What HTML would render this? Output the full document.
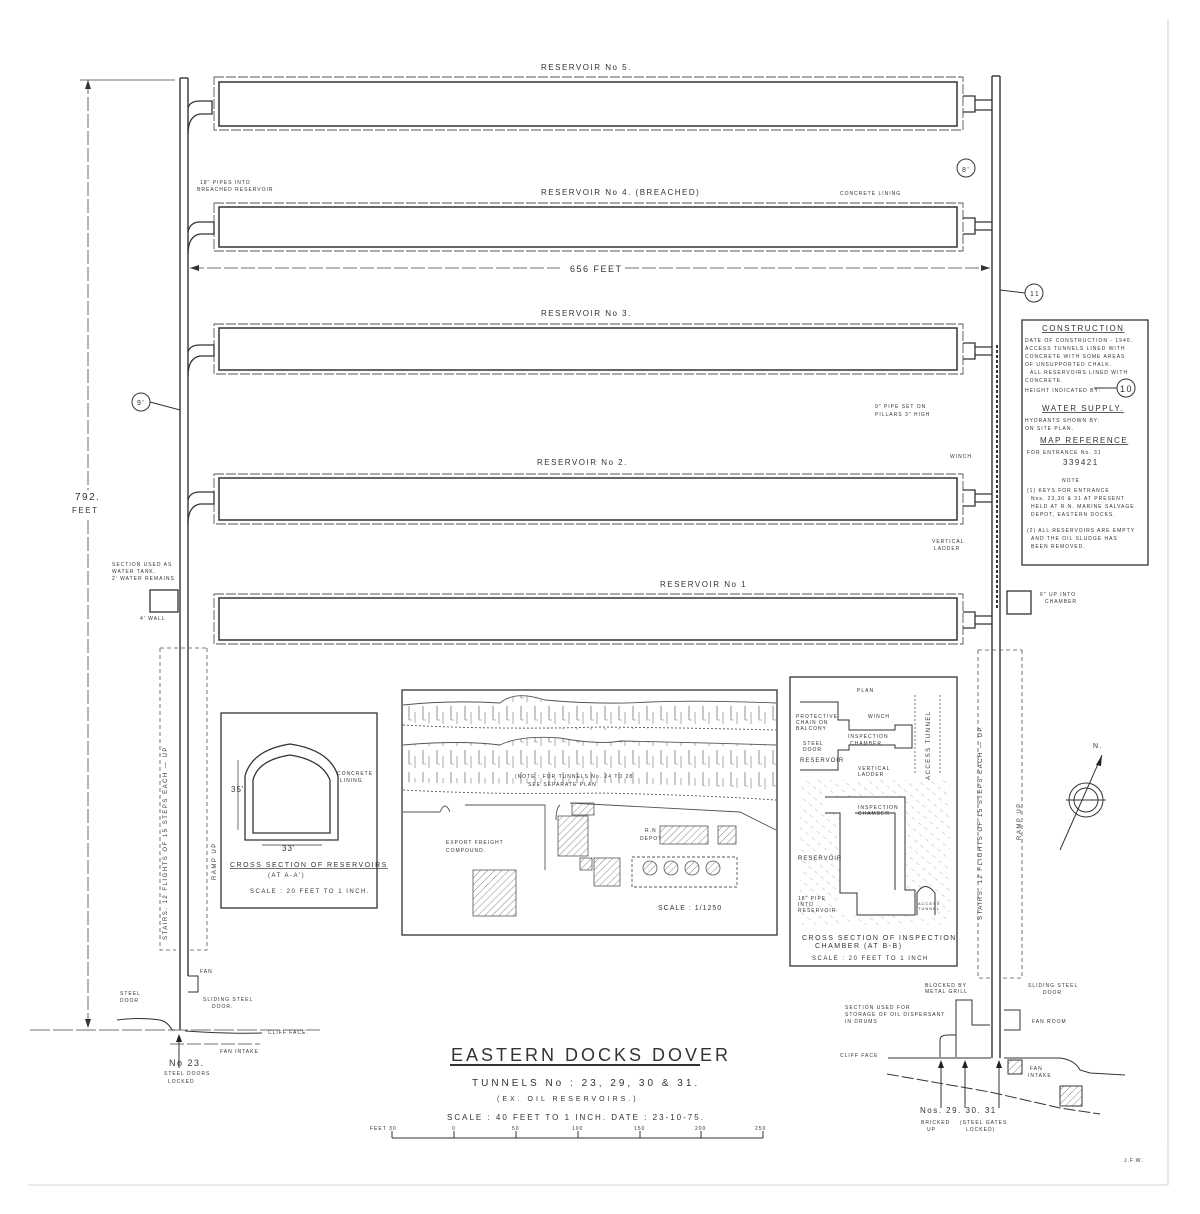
<!DOCTYPE html>
<html><head><meta charset="utf-8"><style>
html,body{margin:0;padding:0;background:#fff;}
svg{display:block;}
text{font-family:"Liberation Sans",sans-serif;fill:#333;}
</style></head><body>
<svg width="1200" height="1214" viewBox="0 0 1200 1214" xmlns="http://www.w3.org/2000/svg">
<defs>
<pattern id="cliff" width="14" height="22" patternUnits="userSpaceOnUse">
<line x1="3" y1="2" x2="3" y2="16" stroke="#777" stroke-width="0.8"/>
<line x1="9" y1="8" x2="9" y2="20" stroke="#888" stroke-width="0.7"/>
<line x1="3" y1="16" x2="6" y2="16" stroke="#888" stroke-width="0.6"/>
</pattern>
<pattern id="hatch" width="5" height="5" patternUnits="userSpaceOnUse" patternTransform="rotate(45)">
<line x1="0" y1="0" x2="0" y2="5" stroke="#666" stroke-width="0.8"/>
</pattern>
<pattern id="hatch2" width="8" height="8" patternUnits="userSpaceOnUse" patternTransform="rotate(-50)">
<line x1="0" y1="0" x2="0" y2="4" stroke="#999" stroke-width="0.7"/>
</pattern>
</defs>
<rect width="1200" height="1214" fill="#fff"/>
<g stroke="#555" fill="none" stroke-width="0.6" opacity="0.5">
<line x1="1168" y1="20" x2="1168" y2="1185"/>
<line x1="28" y1="1185" x2="1168" y2="1185"/>
</g>
<g stroke="#333" fill="none" stroke-width="1.4">
<line x1="180" y1="78" x2="180" y2="1030"/>
<line x1="188" y1="78" x2="188" y2="976"/>
<line x1="180" y1="78" x2="188" y2="78"/>
<line x1="992" y1="76" x2="992" y2="1058"/>
<line x1="1000" y1="76" x2="1000" y2="1058"/>
<line x1="992" y1="76" x2="1000" y2="76"/>
</g>
<g stroke="#333" fill="none" stroke-width="1.5">
<rect x="219" y="82" width="738" height="44"/>
<rect x="219" y="207" width="738" height="40"/>
<rect x="219" y="328" width="738" height="42"/>
<rect x="219" y="478" width="738" height="42"/>
<rect x="219" y="598" width="738" height="42"/>
</g>
<g stroke="#555" fill="none" stroke-width="0.9" stroke-dasharray="10,2">
<rect x="214" y="77" width="749" height="53"/>
<rect x="214" y="203" width="749" height="48"/>
<rect x="214" y="324" width="749" height="50"/>
<rect x="214" y="474" width="749" height="50"/>
<rect x="214" y="594" width="749" height="50"/>
</g>
<g stroke="#333" fill="none" stroke-width="1.3">
<path d="M188 108 Q190 101 200 101 L212 101 L212 114 L200 114 Q188 116 188 134"/>
<path d="M188 232 Q190 222 200 222 L214 222 L214 234 L200 234 Q188 236 188 254"/>
<path d="M188 352 Q190 345 200 345 L214 345 L214 356 L200 356 Q188 358 188 376"/>
<path d="M188 500 Q190 492 200 492 L214 492 L214 504 L200 504 Q188 506 188 524"/>
<path d="M963 96 L975 96 L975 112 L963 112"/><path d="M975 100 L992 100 M975 110 L992 110"/>
<path d="M963 218 L975 218 L975 234 L963 234"/><path d="M975 222 L992 222 M975 230 L992 230"/>
<path d="M963 343 L975 343 L975 359 L963 359"/><path d="M975 347 L992 347 M975 355 L992 355"/>
<path d="M963 490 L975 490 L975 506 L963 506"/><path d="M975 494 L992 494 M975 502 L992 502"/>
<path d="M963 612 L975 612 L975 628 L963 628"/><path d="M975 616 L992 616 M975 624 L992 624"/>
<rect x="1007" y="591" width="24" height="23"/>
<rect x="150" y="590" width="28" height="22"/>
</g>
<line x1="997" y1="345" x2="997" y2="610" stroke="#333" stroke-width="2" stroke-dasharray="3,2"/>
<g stroke="#444" fill="none" stroke-width="0.8">
<line x1="190" y1="268" x2="560" y2="268" stroke-dasharray="14,3"/>
<line x1="625" y1="268" x2="990" y2="268" stroke-dasharray="14,3"/>
<line x1="88" y1="80" x2="88" y2="490" stroke-dasharray="14,3"/>
<line x1="88" y1="520" x2="88" y2="1028" stroke-dasharray="14,3"/>
<line x1="80" y1="80" x2="175" y2="80"/>
<line x1="30" y1="1030" x2="320" y2="1030" stroke-dasharray="20,3"/>
<line x1="170" y1="1044" x2="260" y2="1044" stroke-dasharray="14,3"/>
</g>
<polygon points="190,268 199,265 199,271" fill="#333"/>
<polygon points="990,268 981,265 981,271" fill="#333"/>
<polygon points="88,80 85,89 91,89" fill="#333"/>
<polygon points="88,1028 85,1019 91,1019" fill="#333"/>
<g stroke="#555" fill="none" stroke-width="0.8" stroke-dasharray="4,3">
<path d="M160 648 L160 950 L176 950"/>
<path d="M207 648 L207 950 L190 950"/>
<line x1="160" y1="648" x2="207" y2="648"/>
<path d="M978 650 L978 978 L990 978"/>
<path d="M1022 650 L1022 978 L1002 978"/>
<line x1="978" y1="650" x2="1022" y2="650"/>
</g>
<g stroke="#333" fill="none" stroke-width="1">
<path d="M117 1020 Q140 1017 160 1020 Q168 1022 172 1030 L175 1030"/>
<path d="M185 1031 Q230 1034 262 1033"/>
<path d="M888 1058 L991 1058 M1004 1058 L1060 1058 Q1075 1060 1080 1070 L1090 1073 L1125 1075"/>
<path d="M887 1074 L990 1092 L1060 1108 L1100 1114" stroke-dasharray="12,3"/>
<path d="M956 1057 L956 1000 L972 1000 L972 1025 L990 1025"/>
<path d="M940 1057 L940 1040 Q940 1035 948 1035 L956 1035"/>
<path d="M1004 1010 L1020 1010 L1020 1030 L1004 1030"/>
<path d="M188 976 L198 976 L198 992 L188 992"/>
</g>
<g stroke="#333" stroke-width="1">
<line x1="941" y1="1108" x2="941" y2="1065"/><line x1="965" y1="1108" x2="965" y2="1065"/><line x1="999" y1="1108" x2="999" y2="1065"/>
<line x1="179" y1="1068" x2="179" y2="1038"/>
</g>
<polygon points="941,1060 938,1068 944,1068" fill="#222"/>
<polygon points="965,1060 962,1068 968,1068" fill="#222"/>
<polygon points="999,1060 996,1068 1002,1068" fill="#222"/>
<polygon points="179,1034 176,1042 182,1042" fill="#222"/>
<rect x="1060" y="1086" width="22" height="20" fill="url(#hatch)" stroke="#333"/>
<rect x="1008" y="1060" width="14" height="14" fill="url(#hatch)" stroke="#333"/>
<!-- site plan textures -->
<path d="M403 705 Q450 700 500 703 Q515 690 545 700 Q600 705 650 702 Q700 700 776 703 L776 728 Q700 726 600 730 Q500 728 403 722 Z" fill="url(#cliff)" stroke="none"/>
<path d="M403 745 Q460 740 500 745 Q520 735 560 738 Q600 745 620 741 Q680 742 776 745 L776 790 Q700 785 600 783 Q500 785 403 782 Z" fill="url(#cliff)" stroke="none"/>
<!-- inspection chamber hatch surround -->
<path d="M800 780 L950 780 L950 925 L800 925 Z M825 797 L905 797 L905 890 L935 890 L935 915 L840 915 L840 813 L825 813 Z" fill="url(#hatch2)" fill-rule="evenodd" stroke="none"/>
<rect x="841" y="814" width="63" height="100" fill="#fff"/>
<g stroke="#333" fill="none" stroke-width="1.3">
<rect x="221" y="713" width="156" height="195"/>
<rect x="402" y="690" width="375" height="245"/>
<rect x="790" y="677" width="167" height="289"/>
<rect x="1022" y="320" width="126" height="245"/>
</g>
<g stroke="#333" fill="none" stroke-width="1.3">
<path d="M253 833 L253 780 Q258 760 290 755 Q322 760 330 780 L330 833 Z"/>
<path d="M245 840 L245 776 Q252 750 290 744 Q330 750 338 776 L338 840 Z"/>
<line x1="262" y1="845" x2="322" y2="845" stroke-width="0.7"/>
<line x1="238" y1="760" x2="238" y2="830" stroke-width="0.7"/>
</g>
<g stroke="#555" fill="none" stroke-width="0.9">
<path d="M403 705 Q450 700 500 703 Q515 690 545 700 Q600 705 650 702 Q700 700 776 703"/>
<path d="M403 745 Q460 740 500 745 Q520 735 560 738 Q600 745 620 741 Q680 742 776 745"/>
<path d="M403 790 Q500 795 600 793 Q700 795 776 800" stroke-dasharray="2,2"/>
<path d="M403 725 Q500 730 600 727 Q700 728 776 730" stroke-dasharray="2,2"/>
<path d="M465 805 L545 805 L545 870 M560 805 Q556 808 556 820 M570 803 L740 812 L776 830"/>
<path d="M403 812 L440 812 Q445 800 450 812"/>
<rect x="632" y="857" width="105" height="30" stroke-dasharray="3,2"/>
</g>
<g fill="url(#hatch)" stroke="#555" stroke-width="0.8">
<rect x="473" y="870" width="43" height="46"/>
<rect x="558" y="816" width="30" height="40"/>
<rect x="594" y="858" width="26" height="28"/>
<rect x="580" y="858" width="12" height="12"/>
<rect x="660" y="826" width="48" height="18"/>
<rect x="718" y="826" width="18" height="18"/>
<rect x="572" y="803" width="22" height="12"/>
<circle cx="650" cy="868" r="7"/><circle cx="671" cy="868" r="7"/><circle cx="692" cy="868" r="7"/><circle cx="713" cy="868" r="7"/>
</g>
<g stroke="#333" fill="none" stroke-width="1">
<path d="M800 702 L838 702 L838 720 L849 720 L849 730 L895 730 L895 725 L912 725 L912 748 L895 748 L895 745 L849 745 L849 750 L838 750 L838 770 L800 770"/>
<path d="M825 797 L905 797 L905 890 L915 890 L915 915 L857 915 L857 893 L840 893 L840 813 L825 813"/>
<path d="M895 890 L895 813 L855 813"/>
<path d="M917 915 L917 893 Q925 880 935 893 L935 915"/>
</g>
<g stroke="#555" stroke-width="0.8" stroke-dasharray="2,2">
<line x1="915" y1="695" x2="915" y2="775"/><line x1="940" y1="695" x2="940" y2="775"/>
</g>
<g stroke="#333" fill="none" stroke-width="1">
<circle cx="1086" cy="800" r="17"/><circle cx="1086" cy="800" r="12"/>
<line x1="1060" y1="850" x2="1102" y2="755"/>
<line x1="1066" y1="800" x2="1106" y2="800"/>
</g>
<polygon points="1102,755 1096,765 1101,766" fill="#222"/>
<g stroke="#333" fill="none" stroke-width="1">
<circle cx="966" cy="168" r="9"/><circle cx="1034" cy="293" r="9"/><circle cx="141" cy="402" r="9"/>
<circle cx="1126" cy="388" r="9"/>
<line x1="1094" y1="388" x2="1117" y2="388"/>
<line x1="150" y1="402" x2="180" y2="410"/>
<line x1="1000" y1="290" x2="1025" y2="293"/>
</g>
<g stroke="#333" stroke-width="1" fill="none">
<line x1="392" y1="1138" x2="763" y2="1138"/>
<line x1="392" y1="1131" x2="392" y2="1138"/><line x1="454" y1="1131" x2="454" y2="1138"/><line x1="516" y1="1131" x2="516" y2="1138"/><line x1="578" y1="1131" x2="578" y2="1138"/><line x1="640" y1="1131" x2="640" y2="1138"/><line x1="701" y1="1131" x2="701" y2="1138"/><line x1="763" y1="1131" x2="763" y2="1138"/>
<line x1="450" y1="1065" x2="700" y2="1065" stroke-width="2"/>
</g>
<g font-size="8" letter-spacing="1.5">
<text x="541" y="70">RESERVOIR No 5.</text>
<text x="541" y="195">RESERVOIR No 4. (BREACHED)</text>
<text x="541" y="316">RESERVOIR No 3.</text>
<text x="537" y="465">RESERVOIR No 2.</text>
<text x="660" y="587">RESERVOIR No 1</text>
<text x="570" y="272" font-size="9">656 FEET</text>
<text x="75" y="500" font-size="10">792.</text>
<text x="72" y="513">FEET</text>
</g>
<g font-size="5" letter-spacing="1" fill="#444">
<text x="200" y="184">18" PIPES INTO</text><text x="197" y="191">BREACHED RESERVOIR</text>
<text x="840" y="195">CONCRETE LINING</text>
<text x="875" y="408">9" PIPE SET ON</text><text x="875" y="416">PILLARS 3" HIGH</text>
<text x="950" y="458">WINCH</text>
<text x="932" y="543">VERTICAL</text><text x="934" y="550">LADDER</text>
<text x="112" y="566">SECTION USED AS</text><text x="112" y="573">WATER TANK.</text><text x="112" y="580">2' WATER REMAINS</text>
<text x="140" y="620">4' WALL</text>
<text x="1040" y="596">6" UP INTO</text><text x="1045" y="603">CHAMBER</text>
<text x="337" y="775">CONCRETE</text><text x="340" y="782">LINING</text>
<text x="231" y="792" font-size="8">35'</text><text x="282" y="851" font-size="8">33'</text>
<text x="446" y="844">EXPORT FREIGHT</text><text x="446" y="852">COMPOUND.</text>
<text x="515" y="778">(NOTE : FOR TUNNELS No. 24 TO 28</text><text x="528" y="786">SEE SEPARATE PLAN</text>
<text x="645" y="832">R.N</text><text x="640" y="840">DEPOT</text>
<text x="658" y="910" font-size="7">SCALE : 1/1250</text>
<text x="857" y="692">PLAN</text>
<text x="796" y="718">PROTECTIVE</text><text x="796" y="724">CHAIN ON</text><text x="796" y="730">BALCONY</text>
<text x="803" y="745">STEEL</text><text x="803" y="751">DOOR</text>
<text x="848" y="738">INSPECTION</text><text x="850" y="745">CHAMBER</text>
<text x="868" y="718">WINCH</text>
<text x="858" y="770">VERTICAL</text><text x="858" y="776">LADDER</text>
<text x="800" y="762" font-size="6">RESERVOIR</text>
<text x="858" y="809">INSPECTION</text><text x="858" y="815">CHAMBER</text>
<text x="798" y="860" font-size="6">RESERVOIR</text>
<text x="798" y="900">18" PIPE</text><text x="798" y="906">INTO</text><text x="798" y="912">RESERVOIR</text>
<text x="918" y="905" font-size="4">ACCESS</text><text x="918" y="910" font-size="4">TUNNEL</text>
<text x="200" y="973">FAN</text>
<text x="120" y="995">STEEL</text><text x="120" y="1002">DOOR</text>
<text x="203" y="1001">SLIDING STEEL</text><text x="212" y="1008">DOOR.</text>
<text x="268" y="1034">CLIFF FACE.</text>
<text x="220" y="1053">FAN INTAKE</text>
<text x="164" y="1075">STEEL DOORS</text><text x="168" y="1083">LOCKED</text>
<text x="925" y="987">BLOCKED BY</text><text x="925" y="993">METAL GRILL</text>
<text x="845" y="1009">SECTION USED FOR</text><text x="845" y="1016">STORAGE OF OIL DISPERSANT</text><text x="845" y="1023">IN DRUMS</text>
<text x="1028" y="987">SLIDING STEEL</text><text x="1043" y="994">DOOR</text>
<text x="1032" y="1023">FAN ROOM</text>
<text x="840" y="1057">CLIFF FACE</text>
<text x="1030" y="1070">FAN</text><text x="1028" y="1077">INTAKE</text>
<text x="921" y="1124">BRICKED</text><text x="927" y="1131">UP</text>
<text x="960" y="1124">(STEEL GATES</text><text x="966" y="1131">LOCKED)</text>
<text x="1124" y="1162">J.F.W.</text>
<text x="1025" y="342">DATE OF CONSTRUCTION - 1940.</text>
<text x="1025" y="350">ACCESS TUNNELS LINED WITH</text>
<text x="1025" y="358">CONCRETE WITH SOME AREAS</text>
<text x="1025" y="366">OF UNSUPPORTED CHALK.</text>
<text x="1030" y="374">ALL RESERVOIRS LINED WITH</text>
<text x="1025" y="382">CONCRETE.</text>
<text x="1025" y="392">HEIGHT INDICATED BY:</text>
<text x="1025" y="422">HYDRANTS SHOWN BY:</text><text x="1025" y="430">ON SITE PLAN.</text>
<text x="1027" y="454">FOR ENTRANCE No. 31</text>
<text x="1062" y="482">NOTE</text>
<text x="1027" y="492">(1) KEYS FOR ENTRANCE</text>
<text x="1031" y="500">Nos. 23,30 &amp; 31 AT PRESENT</text>
<text x="1031" y="508">HELD AT R.N. MARINE SALVAGE</text>
<text x="1031" y="516">DEPOT, EASTERN DOCKS.</text>
<text x="1027" y="532">(2) ALL RESERVOIRS ARE EMPTY</text>
<text x="1031" y="540">AND THE OIL SLUDGE HAS</text>
<text x="1031" y="548">BEEN REMOVED.</text>
<text x="370" y="1130">FEET 30</text><text x="452" y="1130">0</text><text x="512" y="1130">50</text><text x="572" y="1130">100</text><text x="634" y="1130">150</text><text x="695" y="1130">200</text><text x="755" y="1130">250</text>
</g>
<g font-size="8" letter-spacing="1.5" fill="#333">
<text x="1042" y="331" text-decoration="underline">CONSTRUCTION</text>
<text x="1042" y="411" text-decoration="underline">WATER SUPPLY.</text>
<text x="1040" y="443" text-decoration="underline">MAP REFERENCE</text>
<text x="1063" y="465">339421</text>
<text x="1120" y="392" font-size="9">10</text>
<text x="962" y="172" font-size="7">8'</text><text x="1030" y="296" font-size="7">11</text><text x="137" y="405" font-size="7">9'</text>
<text x="230" y="867" font-size="7" text-decoration="underline">CROSS SECTION OF RESERVOIRS</text>
<text x="268" y="877" font-size="6">(AT A-A')</text>
<text x="250" y="893" font-size="6">SCALE : 20 FEET TO 1 INCH.</text>
<text x="802" y="940" font-size="7">CROSS SECTION OF INSPECTION</text>
<text x="815" y="948" font-size="7">CHAMBER (AT B-B)</text>
<text x="812" y="960" font-size="6">SCALE : 20 FEET TO 1 INCH</text>
<text x="169" y="1066" font-size="9">No 23.</text>
<text x="920" y="1113" font-size="8">Nos. 29.  30.   31</text>
<text x="1093" y="748" font-size="7">N.</text>
</g>
<text x="451" y="1061" font-size="18" letter-spacing="3">EASTERN DOCKS DOVER</text>
<text x="472" y="1086" font-size="10" letter-spacing="3">TUNNELS No : 23, 29, 30 &amp; 31.</text>
<text x="497" y="1101" font-size="7" letter-spacing="3">(EX. OIL RESERVOIRS.)</text>
<text x="447" y="1120" font-size="8" letter-spacing="2">SCALE : 40 FEET TO 1 INCH.    DATE : 23-10-75.</text>
<g font-size="6" letter-spacing="1.5" fill="#444">
<text transform="translate(167,940) rotate(-90)">STAIRS. 12 FLIGHTS OF 15 STEPS EACH — UP</text>
<text transform="translate(216,880) rotate(-90)">RAMP UP</text>
<text transform="translate(982,920) rotate(-90)">STAIRS. 12 FLIGHTS OF 15 STEPS EACH — UP</text>
<text transform="translate(1021,840) rotate(-90)">RAMP UP</text>
<text transform="translate(930,780) rotate(-90)">ACCESS TUNNEL</text>
</g>
</svg>
</body></html>
